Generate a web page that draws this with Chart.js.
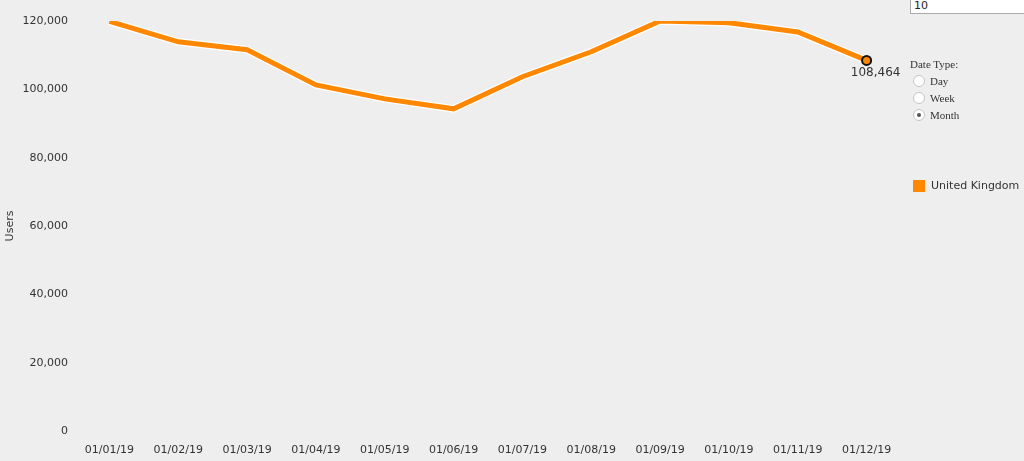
<!DOCTYPE html>
<html>
<head>
<meta charset="utf-8">
<script src="https://cdn.jsdelivr.net/npm/chart.js@4/dist/chart.umd.min.js"></script>
<style>
  html, body { margin: 0; padding: 0; background: #eeeeee; overflow: hidden; }
  #wrap { position: relative; width: 1024px; height: 461px; }
  canvas { position: absolute; left: 0; top: 0; }
  #topinput { position: absolute; left: 910px; top: -2px; width: 130px; height: 14px; background: #fff;
    border: 1px solid #aaa; font-family: "DejaVu Sans", sans-serif; font-size: 11px; color: #222; padding-left: 3px; line-height: 14px; }
  #dtype { position: absolute; left: 910px; top: 58px; font-family: "Liberation Serif", serif; font-size: 11px; color: #333; }
  #dtype .row { display: flex; align-items: center; height: 17px; margin-left: 3px; }
  #dtype .rad { width: 12px; height: 12px; border-radius: 50%; border: 1px solid #c4c4c4; background: #fff; margin-right: 5px; box-sizing: border-box; position: relative; }
  #dtype .rad.on::after { content: ""; position: absolute; left: 3px; top: 3px; width: 4px; height: 4px; border-radius: 50%; background: #555; }
  #legend { position: absolute; left: 913px; top: 179px; display: flex; align-items: center; font-family: "DejaVu Sans", sans-serif; font-size: 11px; color: #333; }
  #legend .sw { width: 12px; height: 12px; background: #ff8800; margin-right: 6px; }
</style>
</head>
<body>
<div id="wrap">
  <canvas id="c" width="1024" height="461"></canvas>
  <div id="topinput">10</div>
  <div id="dtype">
    <div style="margin-bottom:2px">Date Type:</div>
    <div class="row"><span class="rad"></span>Day</div>
    <div class="row"><span class="rad"></span>Week</div>
    <div class="row"><span class="rad on"></span>Month</div>
  </div>
  <div id="legend"><span class="sw"></span><span id="legtxt"></span></div>
</div>
<script>
const categories = ["01/01/19","01/02/19","01/03/19","01/04/19","01/05/19","01/06/19","01/07/19","01/08/19","01/09/19","01/10/19","01/11/19","01/12/19"];
const seriesName = "United Kingdom";
const users = [119900, 113900, 111600, 101300, 97200, 94300, 103700, 111000, 120000, 119500, 116800, 108464];
const yTicks = [0, 20000, 40000, 60000, 80000, 100000, 120000];

document.getElementById('legtxt').textContent = seriesName;

const lastIdx = users.length - 1;
const fmt = v => v.toLocaleString('en-US');

const lastLabelPlugin = {
  id: 'lastLabel',
  afterDatasetsDraw(chart) {
    const meta = chart.getDatasetMeta(1);
    const pt = meta.data[lastIdx];
    const ctx = chart.ctx;
    ctx.save();
    ctx.font = '12px "DejaVu Sans", sans-serif';
    ctx.fillStyle = '#333';
    ctx.textAlign = 'center';
    ctx.textBaseline = 'top';
    ctx.fillText(fmt(users[lastIdx]), pt.x + 9, pt.y + 6);
    ctx.restore();
  }
};

new Chart(document.getElementById('c'), {
  type: 'line',
  data: {
    labels: categories,
    datasets: [
      {
        label: 'halo',
        data: users,
        order: 2,
        borderColor: '#ffffff',
        borderWidth: 7.5,
        pointRadius: 0,
        tension: 0,
        fill: false
      },
      {
        label: seriesName,
        data: users,
        order: 1,
        borderColor: '#ff8800',
        borderWidth: 5,
        tension: 0,
        fill: false,
        pointRadius: users.map((v, i) => i === lastIdx ? 4.5 : 0),
        pointBackgroundColor: '#ff8800',
        pointBorderColor: '#111',
        pointBorderWidth: 2
      }
    ]
  },
  options: {
    responsive: false,
    animation: false,
    events: [],
    layout: { padding: { left: 0, right: 123, top: 21, bottom: 0 } },
    plugins: { legend: { display: false }, tooltip: { enabled: false } },
    scales: {
      x: {
        offset: true,
        grid: { display: false, drawTicks: false },
        border: { display: false },
        afterFit: s => { s.height = 30; },
        ticks: { color: '#333', font: { family: 'DejaVu Sans', size: 11 }, padding: 13, maxRotation: 0, autoSkip: false }
      },
      y: {
        min: 0, max: 120000,
        grid: { display: false, drawTicks: false },
        border: { display: false },
        afterBuildTicks: s => { s.ticks = yTicks.map(v => ({ value: v })); },
        afterFit: s => { s.width = 75; },
        ticks: { color: '#333', font: { family: 'DejaVu Sans', size: 11 }, padding: 7, callback: v => fmt(v) },
        title: { display: true, text: 'Users', color: '#333', font: { family: 'DejaVu Sans', size: 11 }, padding: { top: 4, bottom: 0 } }
      }
    }
  },
  plugins: [lastLabelPlugin]
});
</script>
</body>
</html>
